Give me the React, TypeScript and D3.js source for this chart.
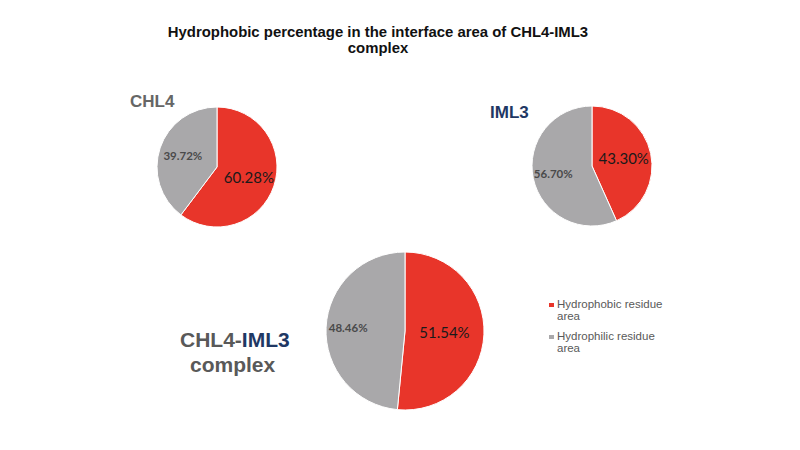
import React, { useEffect, useRef } from 'react';
import * as d3 from 'd3';

interface Slice {
  key: string;
  value: number;
}

const categories = ['Hydrophobic residue area', 'Hydrophilic residue area'];
const chl4Values = [60.28, 39.72];
const iml3Values = [43.3, 56.7];
const complexValues = [51.54, 48.46];
const colors = ['#e8352a', '#a9a8aa'];

const App = () => {
  const ref = useRef<SVGSVGElement>(null);

  useEffect(() => {
    drawChart();
  }, []);

  const drawChart = () => {
    const svg = d3.select(ref.current);
    svg.selectAll('*').remove();

    const width = 800;
    const height = 450;
    svg.attr('width', width).attr('height', height);

    const color = d3.scaleOrdinal<string, string>().domain(categories).range(colors);
    const pie = d3
      .pie<Slice>()
      .sort(null)
      .value((d) => d.value);

    // title
    const title = svg
      .append('text')
      .attr('x', 378)
      .attr('y', 37)
      .attr('text-anchor', 'middle')
      .attr('font-family', 'Liberation Sans, Arial, sans-serif')
      .attr('font-weight', 'bold')
      .attr('font-size', 14.9)
      .attr('fill', '#111');
    title.append('tspan').attr('x', 378).text('Hydrophobic percentage in the interface area of CHL4-IML3');
    title.append('tspan').attr('x', 378).attr('dy', 16).text('complex');

    const drawPie = (
      values: number[],
      cx: number,
      cy: number,
      r: number,
      labelR: number[],
      labelSize: number[],
    ) => {
      const data: Slice[] = values.map((v, i) => ({ key: categories[i], value: v }));
      const g = svg.append('g').attr('transform', `translate(${cx},${cy})`);
      const arc = d3.arc<d3.PieArcDatum<Slice>>().innerRadius(0).outerRadius(r);
      const arcs = pie(data);

      g.selectAll('path')
        .data(arcs)
        .enter()
        .append('path')
        .attr('d', arc)
        .attr('fill', (d) => color(d.data.key))
        .attr('stroke', '#fff')
        .attr('stroke-width', 1);

      g.selectAll('text')
        .data(arcs)
        .enter()
        .append('text')
        .attr('transform', (d, i) => {
          const a = d3.arc<d3.PieArcDatum<Slice>>().innerRadius(r * labelR[i]).outerRadius(r * labelR[i]);
          const [x, y] = a.centroid(d);
          return `translate(${x},${y})`;
        })
        .attr('text-anchor', 'middle')
        .attr('dy', '0.35em')
        .attr('font-family', 'Lato, Open Sans, sans-serif')
        .attr('font-size', (d, i) => labelSize[i])
        .attr('font-weight', (d, i) => (i === 0 ? 'normal' : 'bold'))
        .attr('fill', (d, i) => (i === 0 ? '#1a1a1a' : '#4a4a4a'))
        .text((d) => `${d.data.value.toFixed(2)}%`);
    };

    drawPie(chl4Values, 217, 167, 60, [0.56, 0.6], [15, 11.5]);
    drawPie(iml3Values, 592, 166, 60, [0.54, 0.66], [15, 11.5]);
    drawPie(complexValues, 405, 331, 79, [0.5, 0.72], [15, 11.5]);

    // pie names
    const nameFont = 'Liberation Sans, Arial, sans-serif';
    svg
      .append('text')
      .attr('x', 130)
      .attr('y', 107)
      .attr('font-family', nameFont)
      .attr('font-weight', 'bold')
      .attr('font-size', 17)
      .attr('fill', '#666')
      .text('CHL4');
    svg
      .append('text')
      .attr('x', 490)
      .attr('y', 118)
      .attr('font-family', nameFont)
      .attr('font-weight', 'bold')
      .attr('font-size', 17)
      .attr('fill', '#1f3864')
      .text('IML3');

    const cx = svg
      .append('text')
      .attr('x', 180)
      .attr('y', 347)
      .attr('font-family', nameFont)
      .attr('font-weight', 'bold')
      .attr('font-size', 21);
    cx.append('tspan').attr('fill', '#595959').text('CHL4-');
    cx.append('tspan').attr('fill', '#1f3864').text('IML3');
    svg
      .append('text')
      .attr('x', 190)
      .attr('y', 372)
      .attr('font-family', nameFont)
      .attr('font-weight', 'bold')
      .attr('font-size', 21)
      .attr('fill', '#595959')
      .text('complex');

    // legend
    const legend = svg
      .selectAll('.legend')
      .data(categories)
      .enter()
      .append('g')
      .attr('class', 'legend')
      .attr('transform', (d, i) => `translate(549,${300 + i * 32})`);
    legend
      .append('rect')
      .attr('x', 0)
      .attr('y', 3)
      .attr('width', 5)
      .attr('height', 4)
      .attr('fill', (d) => color(d));
    const lt = legend
      .append('text')
      .attr('font-family', 'Liberation Sans, Arial, sans-serif')
      .attr('font-size', 11.5)
      .attr('fill', '#595959');
    lt.append('tspan')
      .attr('x', 8)
      .attr('y', 8)
      .text((d) => d.replace(' area', ''));
    lt.append('tspan').attr('x', 8).attr('y', 19.5).text('area');
  };

  return (
    <div style={{ position: 'absolute', left: 0, top: 0 }}>
      <svg ref={ref}></svg>
    </div>
  );
};

export default App;
